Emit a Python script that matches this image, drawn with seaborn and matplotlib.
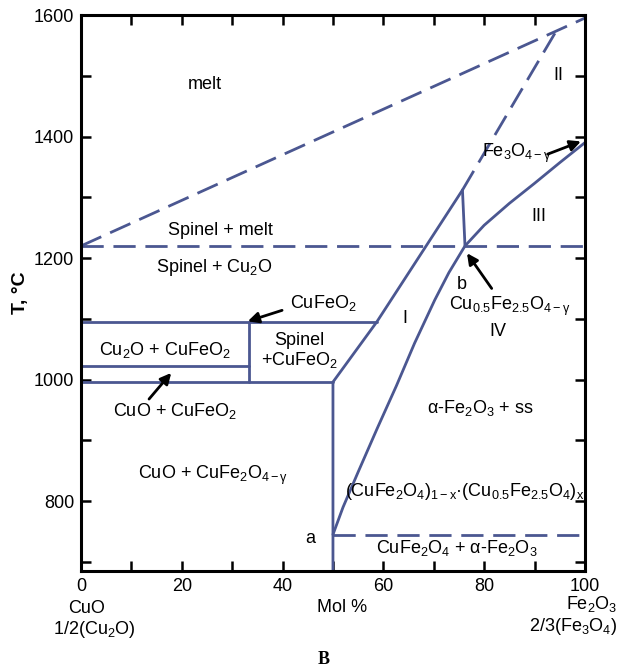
import matplotlib
matplotlib.use("Agg")
import matplotlib.pyplot as plt
import seaborn as sns
import pandas as pd
import numpy as np

# --- phase boundaries (mol % Fe2O3, T in degC) ---
melt_x = [0, 100]
melt_t = [1220, 1595]

eutectic_x = [0, 100]
eutectic_t = [1220, 1220]

liquidus_x = [75.7, 94.4]
liquidus_t = [1312, 1575]

line_i_x = [75.7, 58.7, 50.0, 50.0]
line_i_t = [1312, 1095, 996, 685]

short_x = [75.7, 76.2]
short_t = [1312, 1220]

curve_x = [50.0, 52.0, 55.0, 58.8, 62.6, 66.2, 70.2, 73.0, 76.2, 80.0, 85.0, 90.0, 95.0, 100.0]
curve_t = [745, 790, 848, 920, 990, 1060, 1131, 1176, 1220, 1254, 1290, 1323, 1357, 1390]

a_line_x = [50, 100]
a_line_t = [745, 745]

cufeo2_x = [0, 58.7]
cufeo2_t = [1095, 1095]

low_x = [0, 50]
low_t = [996, 996]

mid_x = [0, 33.4]
mid_t = [1022, 1022]

vert_x = [33.4, 33.4]
vert_t = [996, 1095]

solid_lines = [(line_i_x, line_i_t), (short_x, short_t), (curve_x, curve_t),
               (cufeo2_x, cufeo2_t), (low_x, low_t), (mid_x, mid_t), (vert_x, vert_t)]
dashed_lines = [(melt_x, melt_t), (eutectic_x, eutectic_t), (liquidus_x, liquidus_t),
                (a_line_x, a_line_t)]

sns.set_style("ticks")
plt.rcParams['font.family'] = ['Liberation Sans', 'DejaVu Sans']
plt.rcParams['text.color'] = 'black'
plt.rcParams['mathtext.fontset'] = 'custom'
plt.rcParams['mathtext.rm'] = 'Liberation Sans'
plt.rcParams['mathtext.it'] = 'Liberation Sans:italic'
plt.rcParams['mathtext.bf'] = 'Liberation Sans:bold'

LC = "#4b5791"
LW = 2.0

fig = plt.figure(figsize=(6.17, 6.68), dpi=100)
ax = fig.add_axes([0.1313, 0.1452, 0.8167, 0.8323])

for xs, ts in solid_lines:
    df = pd.DataFrame({"x": xs, "T": ts})
    sns.lineplot(data=df, x="x", y="T", sort=False, estimator=None,
                 color=LC, lw=LW, ax=ax)
for xs, ts in dashed_lines:
    df = pd.DataFrame({"x": xs, "T": ts})
    sns.lineplot(data=df, x="x", y="T", sort=False, estimator=None,
                 color=LC, lw=LW, linestyle=(0, (8, 3.5)), ax=ax)

ax.set_xlim(0, 100)
ax.set_ylim(685, 1600)

xt = list(range(0, 101, 10))
ax.set_xticks(xt)
ax.set_xticklabels([str(v) if v % 20 == 0 else "" for v in xt])
yt = list(range(700, 1601, 100))
ax.set_yticks(yt)
ax.set_yticklabels([str(v) if v % 200 == 0 else "" for v in yt])
ax.tick_params(direction="in", length=7, width=1.8, labelsize=13,
               top=True, right=True, pad=5, color="black", labelcolor="black")
for s in ax.spines.values():
    s.set_linewidth(2.2)
    s.set_color("black")

ax.set_xlabel("")
ax.set_ylabel("T, °C", fontsize=14, fontweight="bold", family="Liberation Sans", color="black")
ax.yaxis.set_label_coords(-0.103, 0.5)

fs = 13
S = r"$_\mathregular{%s}$"
labels = [
    (24.6, 1485, "melt"),
    (27.7, 1246, "Spinel + melt"),
    (26.4, 1184, "Spinel + Cu" + S % "2" + "O"),
    (16.7, 1049, "Cu" + S % "2" + "O + CuFeO" + S % "2"),
    (43.4, 1065, "Spinel"),
    (43.4, 1032, "+CuFeO" + S % "2"),
    (18.7, 948, "CuO + CuFeO" + S % "2"),
    (26.2, 843, "CuO + CuFe" + S % "2" + "O" + S % "4-γ"),
    (45.4, 739, "a"),
    (74.5, 723, "CuFe" + S % "2" + "O" + S % "4" + " + α-Fe" + S % "2" + "O" + S % "3"),
    (76.2, 816, "(CuFe" + S % "2" + "O" + S % "4" + ")" + S % "1-x" + "·(Cu" + S % "0.5"
     + "Fe" + S % "2.5" + "O" + S % "4" + ")" + S % "x"),
    (79.2, 954, "α-Fe" + S % "2" + "O" + S % "3" + " + ss"),
    (82.8, 1079, "IV"),
    (85.1, 1120, "Cu" + S % "0.5" + "Fe" + S % "2.5" + "O" + S % "4-γ"),
    (64.3, 1101, "I"),
    (75.5, 1156, "b"),
    (90.9, 1269, "III"),
    (94.7, 1501, "II"),
    (48.0, 1126, "CuFeO" + S % "2"),
    (86.5, 1372, "Fe" + S % "3" + "O" + S % "4-γ"),
]
for x, t, s in labels:
    ax.text(x, t, s, fontsize=fs, ha="center", va="center", color="black")

arrows = [
    ((39.9, 1114), (33.1, 1096)),
    ((13.5, 968), (17.9, 1011)),
    ((81.5, 1150), (76.6, 1208)),
    ((92.6, 1371), (99.2, 1392)),
]
for start, end in arrows:
    ax.annotate("", xy=end, xytext=start,
                arrowprops=dict(arrowstyle="-|>", color="black", lw=2,
                                mutation_scale=16, shrinkA=0, shrinkB=0))

trans = ax.get_xaxis_transform()
ax.text(1.1, -0.068, "CuO", fontsize=fs, ha="center", va="center", transform=trans, clip_on=False)
ax.text(2.6, -0.105, "1/2(Cu" + S % "2" + "O)", fontsize=fs, ha="center", va="center",
        transform=trans, clip_on=False)
ax.text(51.9, -0.066, "Mol %", fontsize=fs, ha="center", va="center", transform=trans, clip_on=False)
ax.text(106.4, -0.060, "Fe" + S % "2" + "O" + S % "3", fontsize=fs, ha="right", va="center",
        transform=trans, clip_on=False)
ax.text(106.4, -0.099, "2/3(Fe" + S % "3" + "O" + S % "4" + ")", fontsize=fs, ha="right",
        va="center", transform=trans, clip_on=False)

fig.text(323.3 / 617, 1 - 660 / 668, "B", fontsize=13, fontweight="bold",
         family="Liberation Serif", ha="center", va="center")

fig.savefig("out.png", dpi=100)
